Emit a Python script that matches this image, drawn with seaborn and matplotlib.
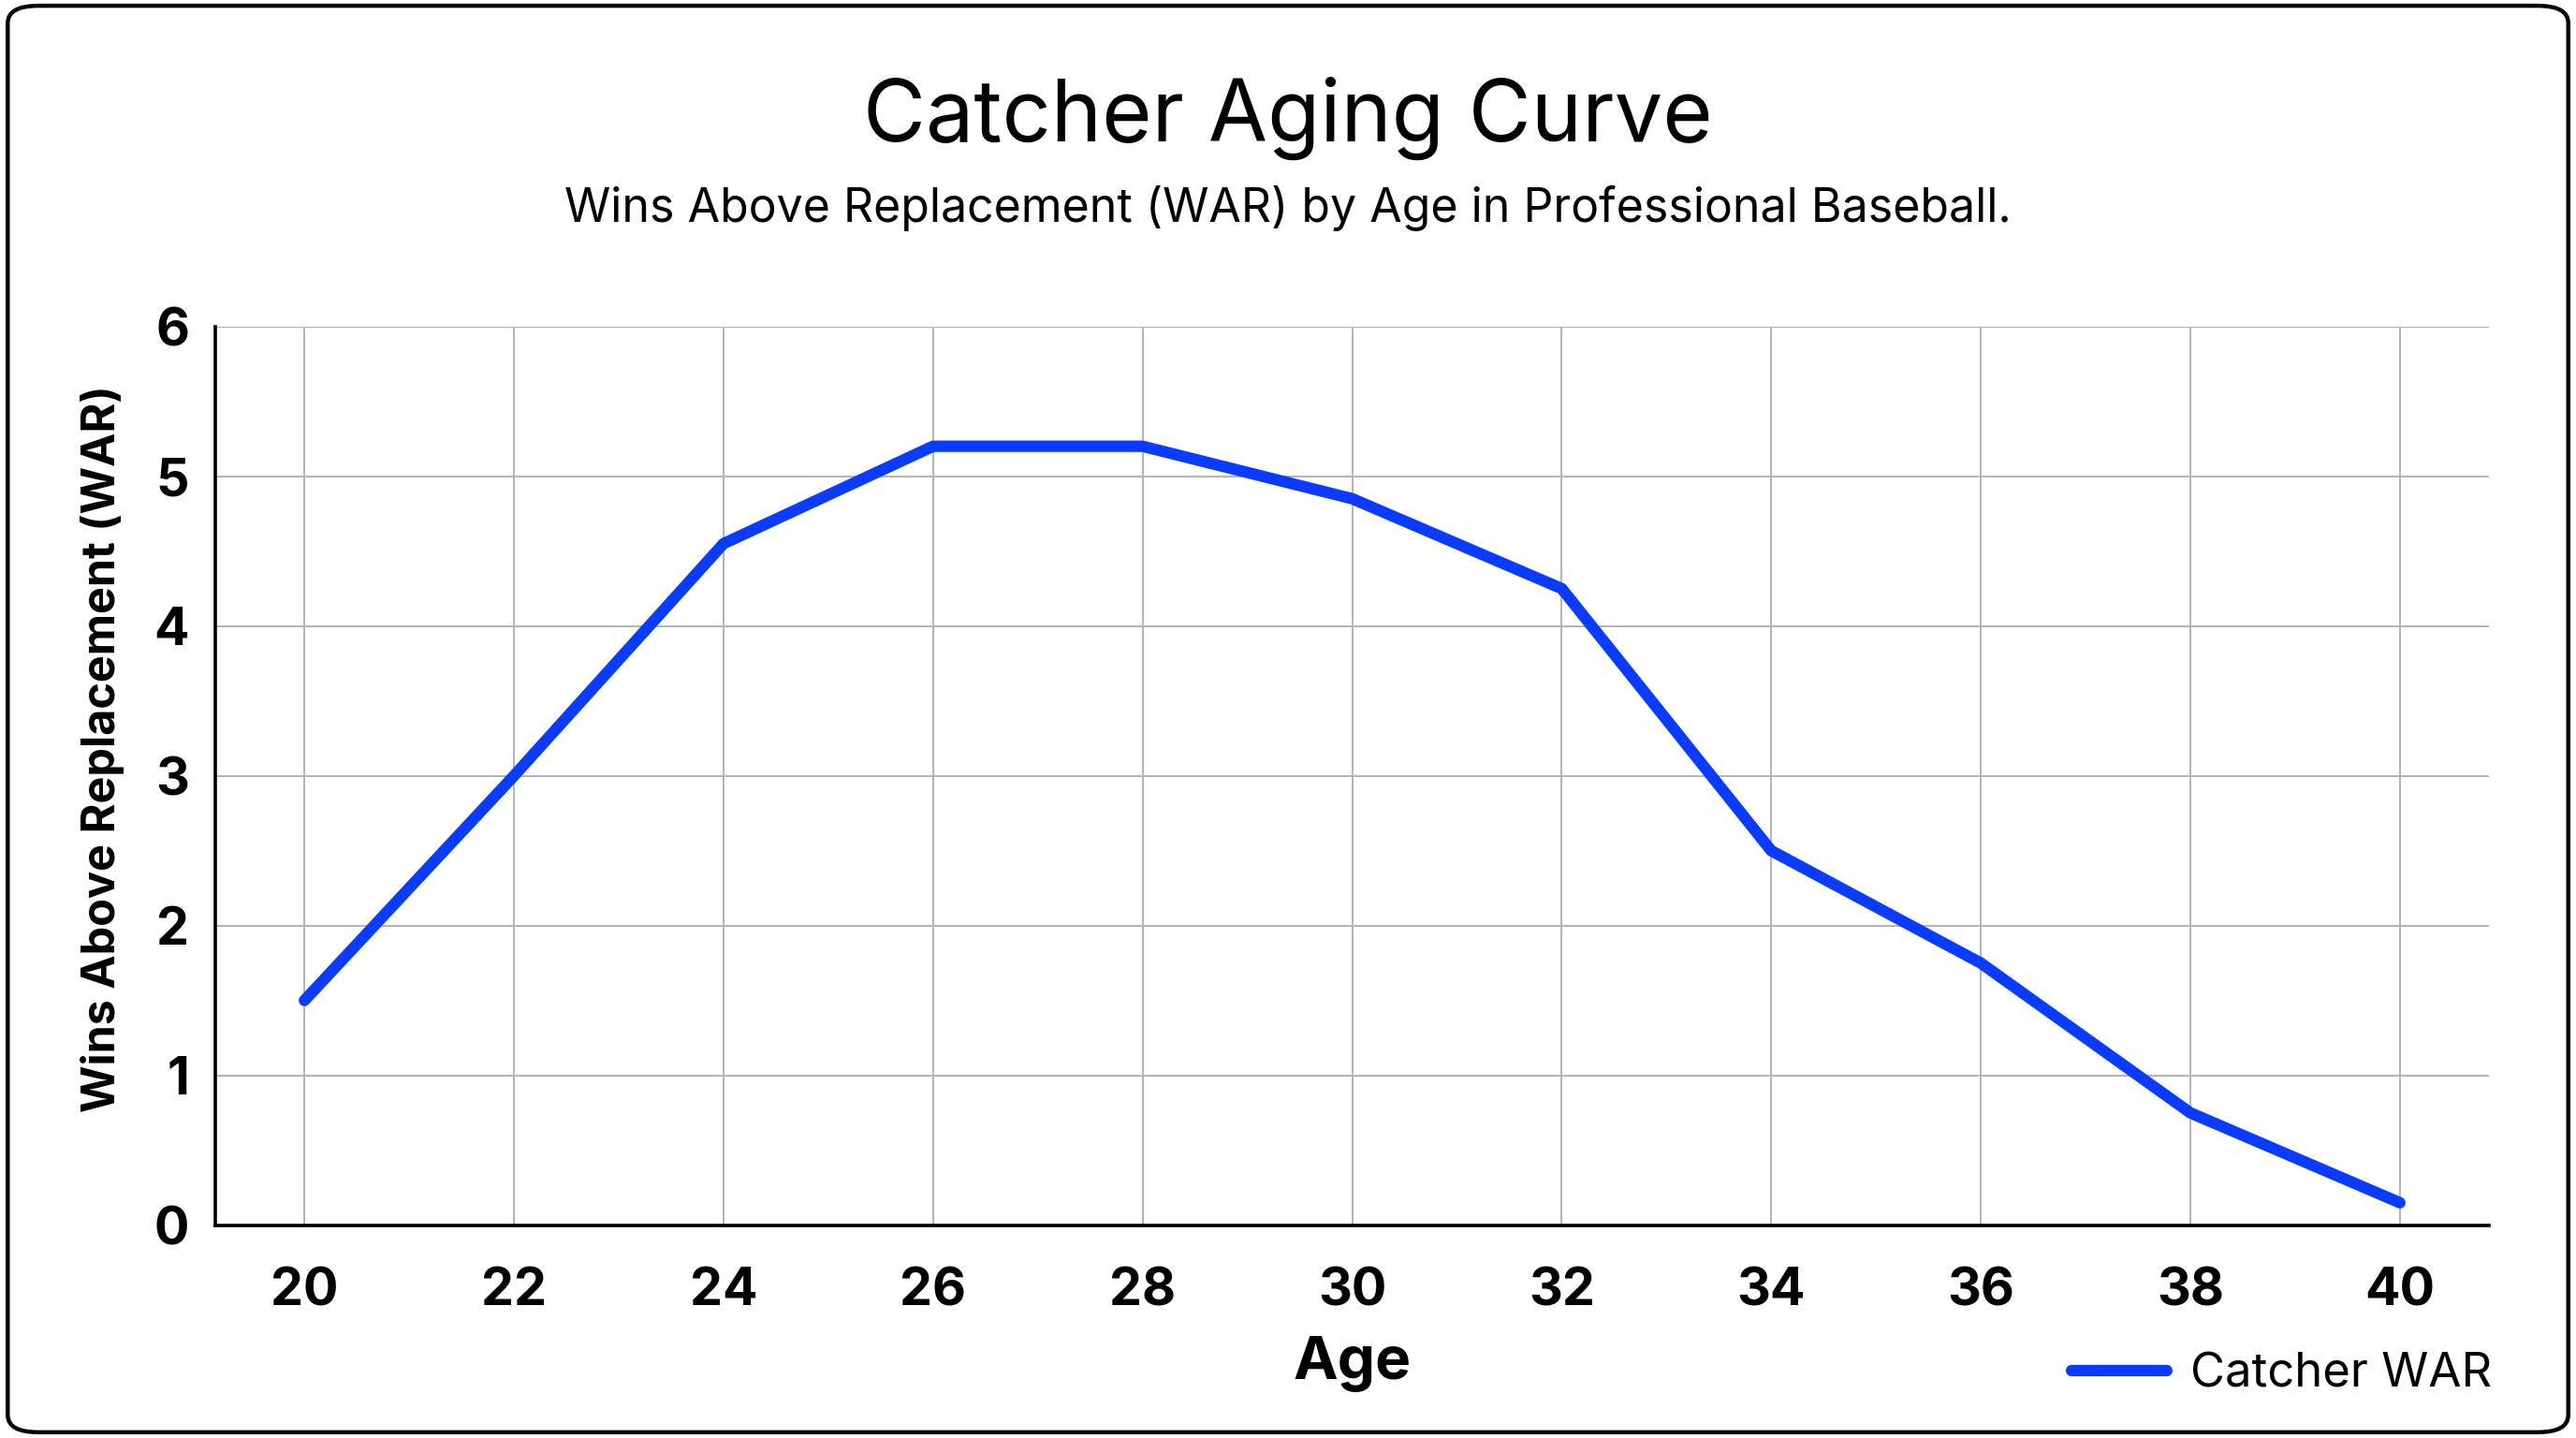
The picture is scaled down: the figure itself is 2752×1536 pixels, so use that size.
import pandas as pd
import matplotlib.pyplot as plt
import seaborn as sns
from matplotlib.patches import FancyBboxPatch

# Data
ages = [20, 22, 24, 26, 28, 30, 32, 34, 36, 38, 40]
war = [1.5, 3.0, 4.55, 5.2, 5.2, 4.85, 4.25, 2.5, 1.75, 0.75, 0.15]
series_name = "Catcher WAR"

df = pd.DataFrame({"Age": ages, "WAR": war, "series": series_name})

sns.set_theme(style="whitegrid")
plt.rcParams['font.family'] = ['Inter', 'DejaVu Sans']
plt.rcParams['text.color'] = 'black'

fig = plt.figure(figsize=(13.76, 7.68), dpi=200)
ax = fig.add_axes([0.0836, 0.148, 0.8826, 0.625])

sns.lineplot(data=df, x="Age", y="WAR", hue="series", palette=["#0a3cff"],
             linewidth=4.4, solid_capstyle="round", solid_joinstyle="round",
             ax=ax, legend=True)

ax.set_xlim(19.15, 40.85)
ax.set_ylim(0, 6)
ax.set_xticks(ages)
ax.set_yticks(range(0, 7))
ax.tick_params(axis="x", length=0, pad=16, labelsize=20)
ax.tick_params(axis="y", length=0, pad=10, labelsize=20)
for lab in ax.get_xticklabels() + ax.get_yticklabels():
    lab.set_fontweight("bold")
    lab.set_color("black")

ax.grid(True, color="#b3b3b3", linewidth=0.7)
ax.set_facecolor("white")
for side in ["top", "right"]:
    ax.spines[side].set_visible(False)
for side in ["left", "bottom"]:
    ax.spines[side].set_visible(True)
    ax.spines[side].set_color("black")
    ax.spines[side].set_linewidth(1.3)

ax.set_xlabel("Age", fontsize=23, fontweight="bold", color="black", labelpad=8)
ax.set_ylabel("Wins Above Replacement (WAR)", fontsize=17.5, fontweight="bold",
              color="black")
ax.yaxis.set_label_coords(-0.040, 0.53)

fig.text(0.5, 0.918, "Catcher Aging Curve", ha="center", va="center",
         fontsize=33, color="black")
fig.text(0.5, 0.855, "Wins Above Replacement (WAR) by Age in Professional Baseball.",
         ha="center", va="center", fontsize=18, color="black")

handles, labels = ax.get_legend_handles_labels()
leg = ax.legend(handles, labels, loc="center right", bbox_to_anchor=(0.984, 0.044),
                bbox_transform=fig.transFigure, frameon=False, fontsize=18.3,
                handlelength=2.0, handletextpad=0.5)
for t in leg.get_texts():
    t.set_color("black")

# rounded figure border
border = FancyBboxPatch((0.003, 0.004), 0.994, 0.992, boxstyle="round,pad=0,rounding_size=0.012",
                        transform=fig.transFigure, fill=False, edgecolor="black",
                        linewidth=1.6, zorder=10)
fig.patches.append(border)

fig.savefig("out.png", dpi=200, facecolor="white")
